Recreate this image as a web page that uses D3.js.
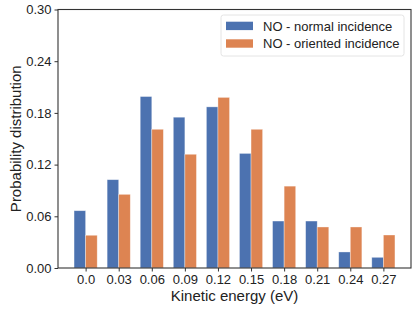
<!DOCTYPE html>
<html><head><meta charset="utf-8">
<script src="https://cdn.jsdelivr.net/npm/d3@7/dist/d3.min.js"></script>
<style>body{margin:0;background:#fff}svg{display:block}text{font-family:"Liberation Sans",Arial,sans-serif;fill:#222}</style>
</head><body>
<svg id="c" width="415" height="312"></svg>
<script>
const categories = ["0.0","0.03","0.06","0.09","0.12","0.15","0.18","0.21","0.24","0.27"];
const normalIncidence = [0.0665,0.1025,0.199,0.175,0.187,0.133,0.0545,0.0545,0.0186,0.0124];
const orientedIncidence = [0.038,0.0855,0.161,0.132,0.198,0.161,0.095,0.0476,0.0476,0.0383];
const yTicks = [0.00,0.06,0.12,0.18,0.24,0.30];
const seriesNames = ["NO - normal incidence","NO - oriented incidence"];
const colors = ["#4c72b0","#dd8452"];

const svg = d3.select("#c");
const L = 58, R = 411, T = 9.5, B = 268;
const bw = 0.35;
const x = d3.scaleLinear().domain([-0.835, categories.length - 1 + 0.835]).range([L, R]);
const y = d3.scaleLinear().domain([0, 0.30]).range([B, T]);

const series = [normalIncidence, orientedIncidence];
series.forEach((vals, s) => {
  svg.append("g").selectAll("rect").data(vals).join("rect")
    .attr("x", (d, i) => x(i - bw + s * bw))
    .attr("width", x(bw) - x(0))
    .attr("y", d => y(d))
    .attr("height", d => y(0) - y(d))
    .attr("fill", colors[s])
    .attr("stroke", "#fff").attr("stroke-opacity", 0.5).attr("stroke-width", 0.7);
});

const xAxis = d3.axisBottom(x).tickValues(d3.range(categories.length)).tickFormat(i => categories[i]).tickSize(3.5).tickPadding(3);
const gx = svg.append("g").attr("transform", `translate(0,${B})`).call(xAxis);
const yAxis = d3.axisLeft(y).tickValues(yTicks).tickFormat(d3.format(".2f")).tickSize(3.5).tickPadding(3);
const gy = svg.append("g").attr("transform", `translate(${L},0)`).call(yAxis);
[gx, gy].forEach(g => {
  g.select(".domain").remove();
  g.selectAll(".tick line").attr("stroke", "#333").attr("stroke-width", 1);
  g.selectAll(".tick text").attr("font-size", 13).attr("fill", "#222").style("font-family", '"Liberation Sans",Arial,sans-serif');
});

// frame
svg.append("rect").attr("x", L).attr("y", T).attr("width", R - L).attr("height", B - T)
  .attr("fill", "none").attr("stroke", "#333").attr("stroke-width", 1.1);

svg.append("text").attr("x", (L + R) / 2).attr("y", 301).attr("text-anchor", "middle")
  .attr("font-size", 15).text("Kinetic energy (eV)");
svg.append("text").attr("transform", `translate(20.5,${(T + B) / 2}) rotate(-90)`).attr("text-anchor", "middle")
  .attr("font-size", 15).text("Probability distribution");

// legend
const lg = svg.append("g");
lg.append("rect").attr("x", 221).attr("y", 15).attr("width", 183).attr("height", 41).attr("rx", 2.5)
  .attr("fill", "#fff").attr("fill-opacity", 0.8).attr("stroke", "#ddd").attr("stroke-width", 0.8);
seriesNames.forEach((n, i) => {
  lg.append("rect").attr("x", 226).attr("y", 21.7 + i * 17.6).attr("width", 27).attr("height", 8.4).attr("fill", colors[i]);
  lg.append("text").attr("x", 263).attr("y", 30.6 + i * 17.6).attr("font-size", 13).text(n);
});
</script>
</body></html>
